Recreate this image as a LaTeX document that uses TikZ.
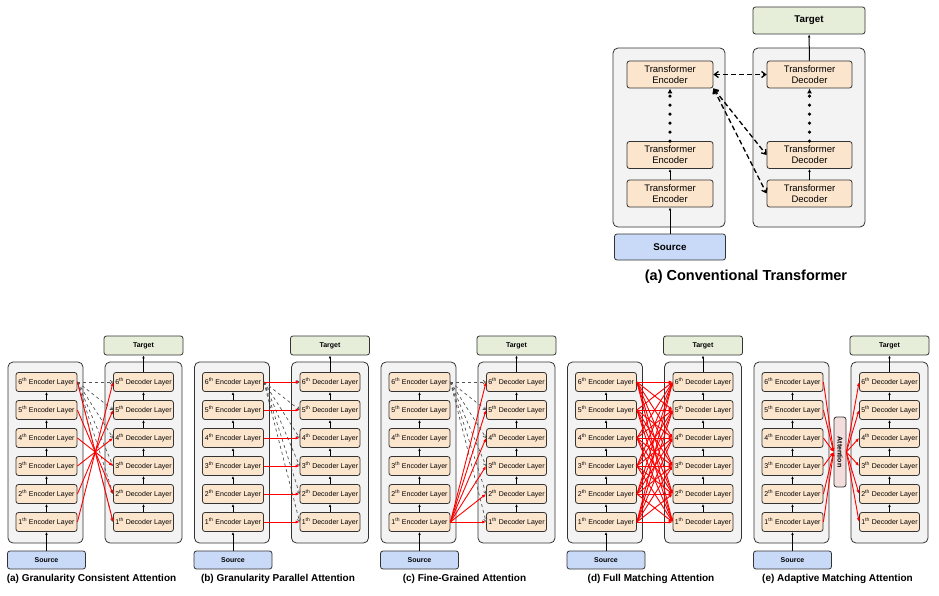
\documentclass[tikz,border=0pt]{standalone}
\usepackage{fontspec}
\setmainfont{Liberation Sans}
\usetikzlibrary{arrows.meta}
\definecolor{layerfill}{HTML}{FCE5CD}
\definecolor{stackfill}{HTML}{F3F3F3}
\definecolor{targetfill}{HTML}{E6EEDA}
\definecolor{sourcefill}{HTML}{C9DAF8}
\definecolor{attnfill}{HTML}{F2DCDC}
\definecolor{edge}{HTML}{333333}
\tikzset{
	box/.style={draw=edge, rounded corners=2.5pt, line width=0.8pt, inner sep=0pt},
	stackbox/.style={box, fill=stackfill, rounded corners=5pt},
	layer/.style={box, fill=layerfill, font=\fontsize{7}{8}\selectfont},
	tgt/.style={box, fill=targetfill, font=\bfseries\fontsize{7}{8}\selectfont},
	src/.style={box, fill=sourcefill, font=\bfseries\fontsize{7}{8}\selectfont},
	up/.style={-{Latex[length=3pt,width=2.6pt]}, line width=0.7pt},
	redarr/.style={red, line width=0.9pt, -{Latex[length=4pt,width=3.2pt]}},
	graydash/.style={gray!65!black, dashed, line width=0.7pt, -{Straight Barb[length=2.5pt,width=3.5pt]}},
	bigdash/.style={dashed, line width=1.3pt, dash pattern=on 5pt off 3pt, {Straight Barb[length=4pt,width=6pt]}-{Straight Barb[length=4pt,width=6pt]}},
	dots/.style={line width=3.6pt, line cap=round, dash pattern=on 0pt off 9pt, -{Latex[length=5pt,width=5pt]}}
}
\begin{document}
\begin{tikzpicture}[x=1pt,y=-1pt,>=latex]
	\useasboundingbox (0,0) rectangle (939,596);
	\node[stackbox, minimum width=112pt, minimum height=179pt] (encstack) at (669,137.5) {};
	\node[stackbox, minimum width=112pt, minimum height=179pt] (decstack) at (809,137.5) {};
	\node[tgt, minimum width=112pt, minimum height=27pt, font=\bfseries\fontsize{9.8}{11}\selectfont] (target) at (809,20.5) {Target};
	\node[src, minimum width=111pt, minimum height=26pt, font=\bfseries\fontsize{9.8}{11}\selectfont] (source) at (670,247) {Source};
	\foreach \n/\y in {1/193.5, 2/155, 3/74.5} {
		\node[layer, minimum width=86pt, minimum height=27pt, align=center, font=\fontsize{9.5}{11}\selectfont] (enc\n) at (670,\y) {Transformer\\Encoder};
		\node[layer, minimum width=85pt, minimum height=27pt, align=center, font=\fontsize{9.5}{11}\selectfont] (dec\n) at (809.5,\y) {Transformer\\Decoder};
	}
	\node[font=\bfseries\fontsize{14.5}{16}\selectfont] (title) at (746,277) {(a) Conventional Transformer};
	\draw[up, line width=1pt] (source) -- (enc1);
	\draw[up, line width=1pt] (enc1) -- (enc2);
	\draw[dots] (enc2) -- (enc3);
	\draw[up, line width=1pt] (dec1) -- (dec2);
	\draw[dots] (dec2) -- (dec3);
	\draw[up, line width=1pt] (dec3) -- (target);
	\draw[bigdash] (enc3.east) -- (dec3.west);
	\draw[bigdash] (enc3.south east) -- (dec2.west);
	\draw[bigdash] (enc3.south east) -- (dec1.west);

	\foreach \p/\lbl in {1/(a) Granularity Consistent Attention, 2/(b) Granularity Parallel Attention, 3/(c) Fine-Grained Attention, 4/(d) Full Matching Attention, 5/(e) Adaptive Matching Attention} {
		\begin{scope}[xshift={(\p-1)*186.5pt}]
			\node[stackbox, minimum width=75pt, minimum height=181pt] (ec\p) at (45.5,452.5) {};
			\node[stackbox, minimum width=77pt, minimum height=181pt] (dc\p) at (143.5,452.5) {};
			\node[tgt, minimum width=79pt, minimum height=19pt] (t\p) at (143.5,345.5) {Target};
			\node[src, minimum width=78pt, minimum height=18pt] (s\p) at (46.5,560) {Source};
			\foreach \i in {1,...,6} {
				\node[layer, minimum width=61pt, minimum height=19pt] (e\p-\i) at (46.5,{522-28*(\i-1)}) {\i\textsuperscript{th} Encoder Layer};
				\node[layer, minimum width=60pt, minimum height=19pt] (d\p-\i) at (143.5,{522-28*(\i-1)}) {\i\textsuperscript{th} Decoder Layer};
			}
			\node[font=\bfseries\fontsize{10}{12}\selectfont] (c\p) at (91.5,579) {\lbl};
			\draw[up] (s\p) -- (e\p-1);
			\foreach \i [count=\k from 2] in {1,...,5} {
				\draw[up] (e\p-\i) -- (e\p-\k);
				\draw[up] (d\p-\i) -- (d\p-\k);
			}
			\draw[up] (d\p-6) -- (t\p);
		\end{scope}
	}

	\foreach \p in {1,2,3}
		\foreach \j in {1,...,6}
			\draw[graydash] (e\p-6.east) -- (d\p-\j.west);
	\foreach \i in {1,...,6} {
		\pgfmathtruncatemacro\j{7-\i}
		\draw[redarr] (e1-\i.east) -- (d1-\j.west);
		\draw[redarr] (e2-\i.east) -- (d2-\i.west);
		\draw[redarr] (e3-1.east) -- (d3-\i.west);
		\foreach \k in {1,...,6}
			\draw[redarr] (e4-\i.east) -- (d4-\k.west);
	}
	\node[box, fill=attnfill, minimum width=12pt, minimum height=70pt, font=\bfseries\fontsize{7}{8}\selectfont] (att) at (840,452) {\rotatebox{-90}{Attention}};
	\foreach \i in {1,...,6} {
		\draw[redarr] (e5-\i.east) -- (att.west);
		\draw[redarr] (att.east) -- (d5-\i.west);
	}
\end{tikzpicture}
\end{document}
